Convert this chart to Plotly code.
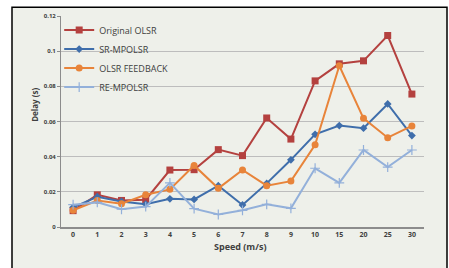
import plotly.graph_objects as go

speeds = ["0", "1", "2", "3", "4", "5", "6", "7", "8", "9", "10", "15", "20", "25", "30"]
original_olsr = [0.0093, 0.0183, 0.0151, 0.0155, 0.0324, 0.0326, 0.0440, 0.0406, 0.0620, 0.0500, 0.0831, 0.0928, 0.0945, 0.1089, 0.0756]
sr_mpolsr = [0.0112, 0.0172, 0.0145, 0.0130, 0.0160, 0.0157, 0.0235, 0.0125, 0.0248, 0.0382, 0.0527, 0.0577, 0.0562, 0.0700, 0.0520]
olsr_feedback = [0.0095, 0.0151, 0.0132, 0.0183, 0.0214, 0.0350, 0.0220, 0.0324, 0.0235, 0.0261, 0.0468, 0.0917, 0.0618, 0.0508, 0.0575]
re_mpolsr = [0.0127, 0.0140, 0.0101, 0.0116, 0.0251, 0.0104, 0.0071, 0.0095, 0.0129, 0.0106, 0.0334, 0.0251, 0.0438, 0.0341, 0.0438]
y_ticks = [0, 0.02, 0.04, 0.06, 0.08, 0.1, 0.12]
y_tick_labels = ["0", "0.02", "0.04", "0.06", "0.08", "0.1", "0.12"]

FONT = "Open Sans"

series = [
    ("Original OLSR", original_olsr, "#b4413f", dict(symbol="square", size=7)),
    ("SR-MPOLSR", sr_mpolsr, "#3f6eab", dict(symbol="diamond", size=6)),
    ("OLSR FEEDBACK", olsr_feedback, "#e8843a", dict(symbol="circle", size=7)),
    ("RE-MPOLSR", re_mpolsr, "#93b0da", dict(symbol="cross-thin", size=7, line=dict(width=1.2, color="#93b0da"))),
]

fig = go.Figure()
for name, vals, col, mk in series:
    mk = dict(mk)
    mk["color"] = col
    fig.add_trace(go.Scatter(x=speeds, y=vals, name=name, mode="lines+markers",
                             line=dict(color=col, width=2), marker=mk))

fig.update_layout(
    width=449, height=268,
    margin=dict(l=61, r=25, t=12, b=41),
    paper_bgcolor="white",
    plot_bgcolor="rgba(0,0,0,0)",
    font=dict(family=FONT, color="#404040"),
    showlegend=True,
    legend=dict(x=-0.005, y=1.002, xanchor="left", yanchor="top",
                bgcolor="rgba(0,0,0,0)", font=dict(size=9, color="#404040"),
                tracegroupgap=0),
    shapes=[dict(type="rect", xref="paper", yref="paper",
                 x0=(12 - 61) / 363, x1=(447 - 61) / 363,
                 y0=-0.3, y1=(227 - 3) / 215,
                 fillcolor="#eef0ea", line=dict(color="black", width=1.5), layer="below")],
    annotations=[
        dict(text="<b>Delay (s)</b>", xref="paper", yref="paper",
             x=(27 - 61) / 363, y=(227 - 103) / 215, textangle=-90,
             showarrow=False, font=dict(size=8, color="#404040")),
        dict(text="<b>Speed (m/s)</b>", xref="paper", yref="paper",
             x=(240 - 61) / 363, y=(227 - 256) / 215,
             showarrow=False, font=dict(size=9, color="#404040")),
    ],
)
fig.update_xaxes(type="category", range=[-0.5, 14.5], showgrid=False,
                 showline=True, linecolor="#8c8c8c", linewidth=1.5,
                 ticks="", tickfont=dict(size=7, color="#404040"), zeroline=False,
                 tickvals=speeds, ticktext=["<b>%s</b>" % s for s in speeds])
fig.update_yaxes(range=[0, 0.12], tickvals=y_ticks, ticktext=["<b>%s</b>" % t for t in y_tick_labels],
                 showgrid=True, gridcolor="#bdbdbd", gridwidth=1,
                 showline=True, linecolor="#8c8c8c", linewidth=1,
                 ticks="outside", ticklen=3, tickcolor="#8c8c8c",
                 tickfont=dict(size=6, color="#404040"), zeroline=False)

fig.write_html("out.html", config={"displayModeBar": False},
               post_script="document.body.style.margin='0';")
